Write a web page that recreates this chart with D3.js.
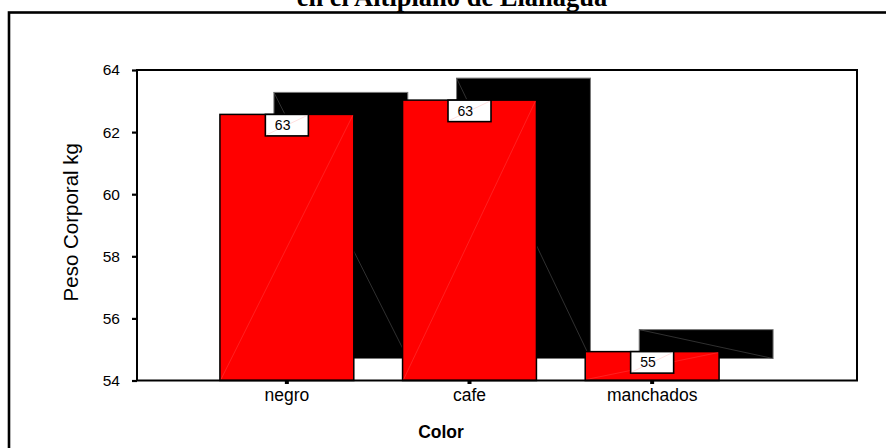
<!DOCTYPE html>
<html>
<head>
<meta charset="utf-8">
<script src="https://cdn.jsdelivr.net/npm/d3@7"></script>
<style>
  html, body { margin: 0; padding: 0; background: #fff; }
  svg { display: block; }
</style>
</head>
<body>
<svg id="chart" width="886" height="448"></svg>
<script>
// Mean body weight (kg) by coat colour
const categories = ["negro", "cafe", "manchados"];
const values = [62.57, 63.03, 54.93];
const yTicks = [54, 56, 58, 60, 62, 64];
const titleLine = "en el Altiplano de Llallagua";
const yTitle = "Peso Corporal kg";
const xTitle = "Color";

const W = 886, H = 448;
const plot = { left: 137, top: 70, right: 857, bottom: 380.5 };
const depth = { dx: 54, dy: 22 };   // offset of the shaded back face
const sans = "Arial, 'Liberation Sans', sans-serif";

const svg = d3.select("#chart");

// outer frame (runs past the right and bottom edges)
svg.append("rect")
  .attr("x", 9).attr("y", 12.5)
  .attr("width", 1000).attr("height", 1000)
  .attr("fill", "none").attr("stroke", "#000").attr("stroke-width", 2.6);

// title (second line of a two-line heading)
svg.append("text")
  .attr("x", 452).attr("y", 5.5)
  .attr("text-anchor", "middle")
  .attr("font-family", "'Liberation Serif', 'Times New Roman', serif")
  .attr("font-weight", "bold")
  .attr("font-size", 26.5)
  .text(titleLine);

const x = d3.scaleBand()
  .domain(categories)
  .range([plot.left, plot.right - depth.dx - 1])
  .paddingInner(0.267)
  .paddingOuter(0.454);

const y = d3.scaleLinear()
  .domain([d3.min(yTicks), d3.max(yTicks)])
  .range([plot.bottom, plot.top]);

const data = categories.map((c, i) => ({ cat: c, value: values[i] }));

// back faces
const back = svg.append("g");
data.forEach(d => {
  const x0 = x(d.cat) + depth.dx, x1 = x0 + x.bandwidth();
  const y0 = y(d.value) - depth.dy, y1 = y(y.domain()[0]) - depth.dy;
  back.append("rect")
    .attr("x", x0).attr("y", y0)
    .attr("width", x1 - x0).attr("height", y1 - y0)
    .attr("fill", "#000").attr("stroke", "#777").attr("stroke-width", 1);
  back.append("line")
    .attr("x1", x0).attr("y1", y0).attr("x2", x1).attr("y2", y1)
    .attr("stroke", "#505050").attr("stroke-width", 0.6);
});

// front faces
const front = svg.append("g");
data.forEach(d => {
  const x0 = x(d.cat), x1 = x0 + x.bandwidth();
  const y0 = y(d.value), y1 = y(y.domain()[0]);
  front.append("rect")
    .attr("x", x0).attr("y", y0)
    .attr("width", x1 - x0).attr("height", y1 - y0)
    .attr("fill", "#ff0000").attr("stroke", "#000").attr("stroke-width", 1.5);
  front.append("line")
    .attr("x1", x0 + 1).attr("y1", y1 - 1).attr("x2", x1 - 1).attr("y2", y0 + 1)
    .attr("stroke", "#ff4040").attr("stroke-width", 0.5);
});

// plot frame
svg.append("rect")
  .attr("x", plot.left).attr("y", plot.top)
  .attr("width", plot.right - plot.left).attr("height", plot.bottom - plot.top)
  .attr("fill", "none").attr("stroke", "#000").attr("stroke-width", 2);

// y axis
const yAxis = svg.append("g")
  .attr("transform", `translate(${plot.left},0)`)
  .call(d3.axisLeft(y).tickValues(yTicks).tickFormat(d3.format("d")).tickSize(5).tickPadding(12));
yAxis.select(".domain").remove();
yAxis.selectAll(".tick line").attr("stroke", "#000").attr("stroke-width", 2.2);
yAxis.selectAll(".tick text")
  .attr("font-family", sans).attr("font-size", 15.5).attr("fill", "#000");

// x axis
const xAxis = svg.append("g")
  .attr("transform", `translate(0,${plot.bottom})`)
  .call(d3.axisBottom(x).tickSize(3.5).tickPadding(5));
xAxis.select(".domain").remove();
xAxis.selectAll(".tick line").attr("stroke", "#000").attr("stroke-width", 4);
xAxis.selectAll(".tick text")
  .attr("font-family", sans).attr("font-size", 17.5).attr("fill", "#000");

// value labels
const fmt = d3.format(".0f");
const labels = svg.append("g");
data.forEach(d => {
  const cx = x(d.cat) + x.bandwidth() / 2;
  const bw = 43, bh = 21.5;
  const bx = cx - bw / 2, by = y(d.value);
  labels.append("rect")
    .attr("x", bx).attr("y", by).attr("width", bw).attr("height", bh)
    .attr("fill", "#fff").attr("stroke", "#000").attr("stroke-width", 1.6);
  labels.append("line")
    .attr("x1", bx + 1).attr("y1", by + bh - 1).attr("x2", bx + bw - 1).attr("y2", by + 1)
    .attr("stroke", "#ffc0c0").attr("stroke-width", 0.5);
  labels.append("text")
    .attr("x", bx + 9.5).attr("y", by + 15.5)
    .attr("font-family", sans).attr("font-size", 14)
    .text(fmt(d.value));
});

// axis titles
svg.append("text")
  .attr("transform", `translate(78,${(plot.top + plot.bottom) / 2 - 3}) rotate(-90)`)
  .attr("text-anchor", "middle")
  .attr("font-family", sans).attr("font-size", 20.5)
  .text(yTitle);

svg.append("text")
  .attr("x", 441).attr("y", 438)
  .attr("text-anchor", "middle")
  .attr("font-family", sans).attr("font-weight", "bold").attr("font-size", 17.5)
  .text(xTitle);
</script>
</body>
</html>
